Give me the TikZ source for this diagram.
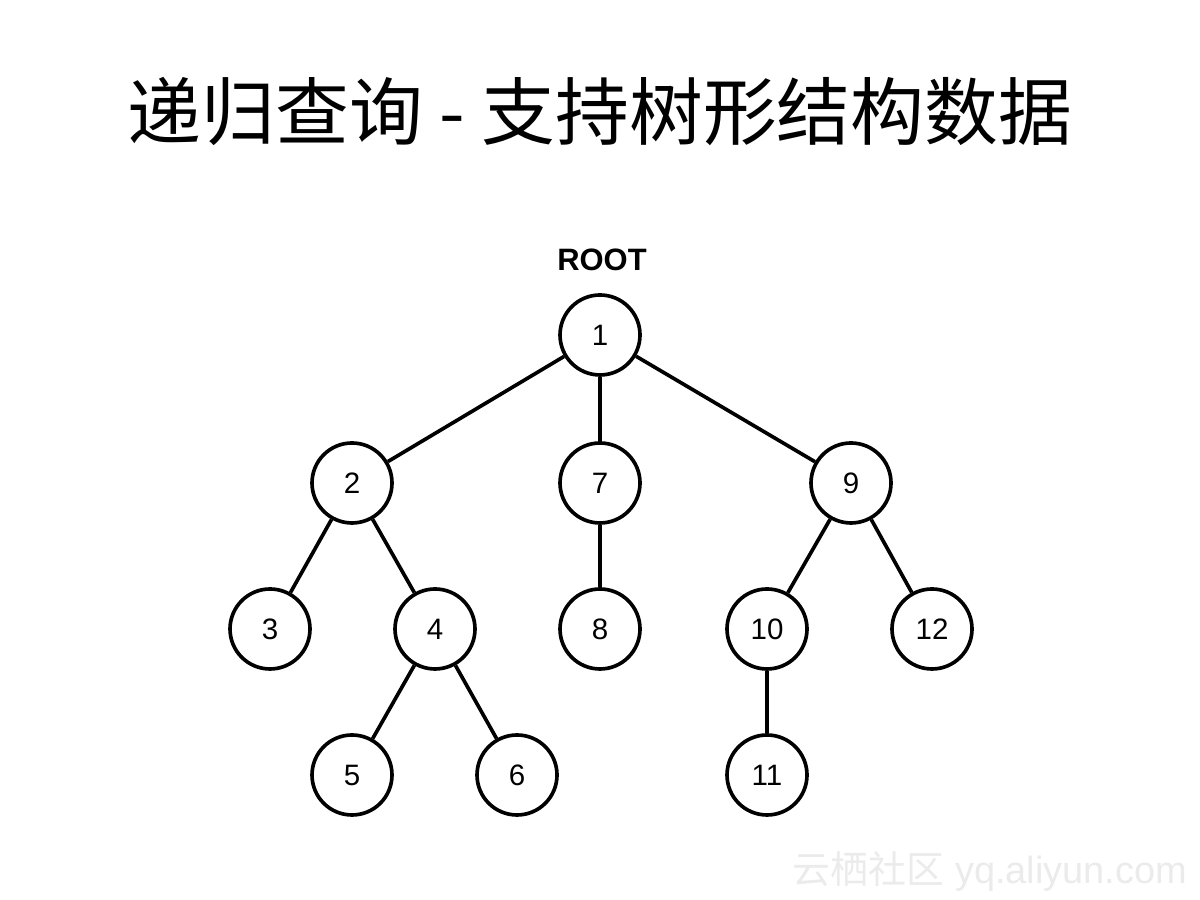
\documentclass[tikz,border=0pt]{standalone}
\usepackage{fontspec}
\setmainfont{Liberation Sans}
\newfontfamily\cjk{Noto Sans CJK SC}
\usetikzlibrary{shapes}

\begin{document}
\begin{tikzpicture}[treenode/.style={circle, draw, line width=2.6pt, minimum size=2cm, inner sep=0pt, font=\fontsize{21}{25}\selectfont}]
\useasboundingbox (0,0) rectangle (30,22.5);

\node[] (title) at (15,19.7) {\cjk\fontsize{52.5}{60}\selectfont 递归查询 - 支持树形结构数据};

\node[font=\bfseries\fontsize{22}{28}\selectfont] (root) at (15.05,16.0) {ROOT};

\node[treenode] (n1) at (15,14.125) {1};

\node[treenode] (n2) at (8.8,10.425) {2};
\node[treenode] (n7) at (15,10.425) {7};
\node[treenode] (n9) at (21.275,10.425) {9};

\node[treenode] (n3) at (6.75,6.775) {3};
\node[treenode] (n4) at (10.875,6.775) {4};
\node[treenode] (n8) at (15,6.775) {8};
\node[treenode] (n10) at (19.175,6.775) {10};
\node[treenode] (n12) at (23.3,6.775) {12};

\node[treenode] (n5) at (8.8,3.125) {5};
\node[treenode] (n6) at (12.925,3.125) {6};
\node[treenode] (n11) at (19.175,3.125) {11};

\draw[line width=2.6pt] (n1) to (n2);
\draw[line width=2.6pt] (n1) to (n7);
\draw[line width=2.6pt] (n1) to (n9);
\draw[line width=2.6pt] (n2) to (n3);
\draw[line width=2.6pt] (n2) to (n4);
\draw[line width=2.6pt] (n7) to (n8);
\draw[line width=2.6pt] (n9) to (n10);
\draw[line width=2.6pt] (n9) to (n12);
\draw[line width=2.6pt] (n4) to (n5);
\draw[line width=2.6pt] (n4) to (n6);
\draw[line width=2.6pt] (n10) to (n11);

\node[text=black!8] (mark) at (24.75,0.72) {\fontsize{27}{32}\selectfont{\cjk 云栖社区} yq.aliyun.com};

\end{tikzpicture}
\end{document}
